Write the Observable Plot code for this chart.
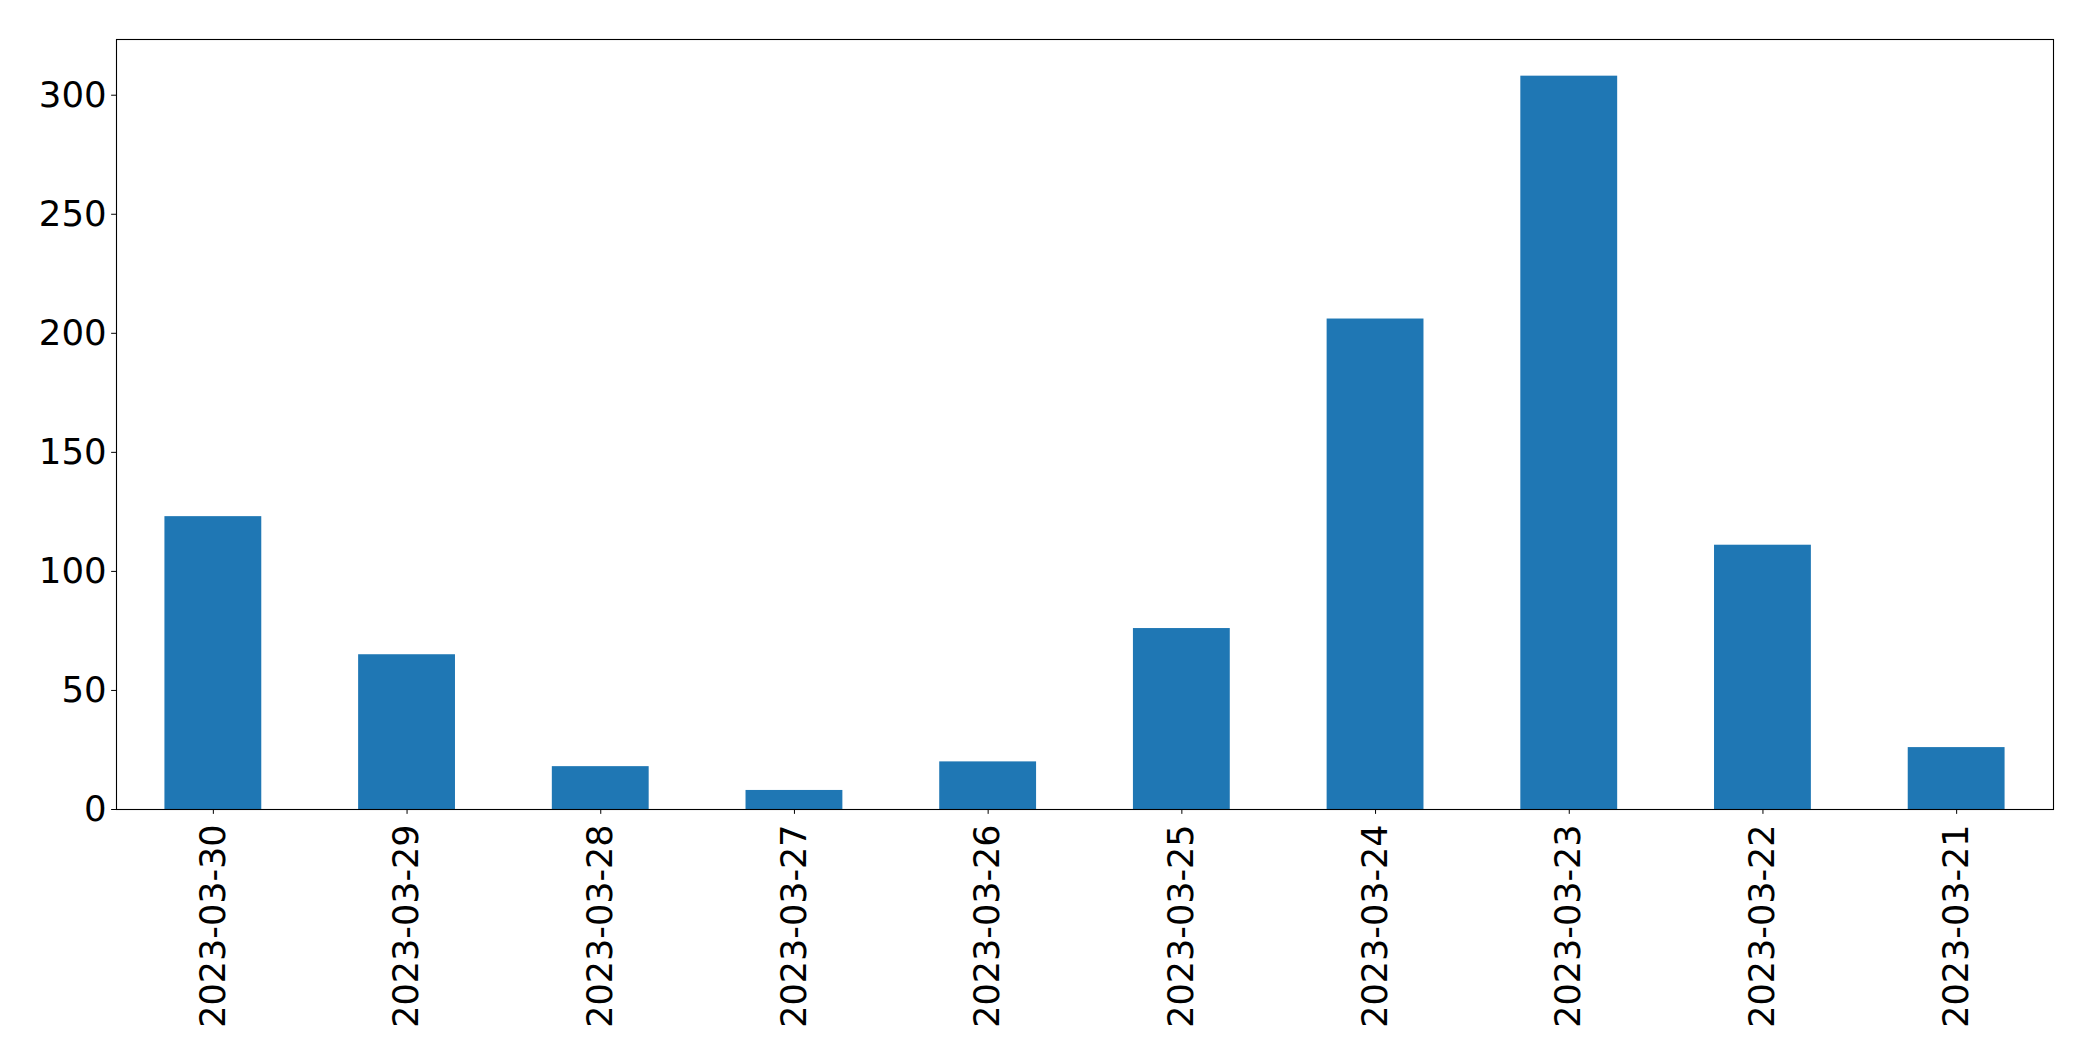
<!DOCTYPE html>
<html>
<head>
<meta charset="utf-8">
<script src="https://cdn.jsdelivr.net/npm/d3@7"></script>
<script src="https://cdn.jsdelivr.net/npm/@observablehq/plot@0.6"></script>
<style>
  html, body { margin: 0; padding: 0; background: white; }
  svg { display: block; }
</style>
</head>
<body>
<div id="chart"></div>
<script>
const dates = ["2023-03-30", "2023-03-29", "2023-03-28", "2023-03-27", "2023-03-26",
               "2023-03-25", "2023-03-24", "2023-03-23", "2023-03-22", "2023-03-21"];
const counts = [123, 65, 18, 8, 20, 76, 206, 308, 111, 26];
const yTicks = [0, 50, 100, 150, 200, 250, 300];

const data = dates.map((d, i) => ({date: d, count: counts[i]}));

const chart = Plot.plot({
  width: 2093,
  height: 1061,
  marginTop: 39,
  marginLeft: 116,
  marginRight: 40,
  marginBottom: 252,
  style: {fontFamily: "'DejaVu Sans'", fontSize: "35px", color: "black", background: "white", overflow: "visible"},
  x: {domain: dates, paddingInner: 0.5, paddingOuter: 0.25, round: false, label: null},
  y: {domain: [0, 323.4], label: null},
  marks: [
    Plot.barY(data, {x: "date", y: "count", fill: "#1f77b4"}),
    Plot.frame({stroke: "black", strokeWidth: 1.1}),
    Plot.axisY({ticks: yTicks, tickSize: 4.86, tickPadding: 5, label: null, fontSize: 35.5}),
    Plot.axisX({tickRotate: -90, tickSize: 4.86, tickPadding: 10, label: null, fontSize: 35})
  ]
});
document.getElementById("chart").appendChild(chart);
</script>
</body>
</html>
